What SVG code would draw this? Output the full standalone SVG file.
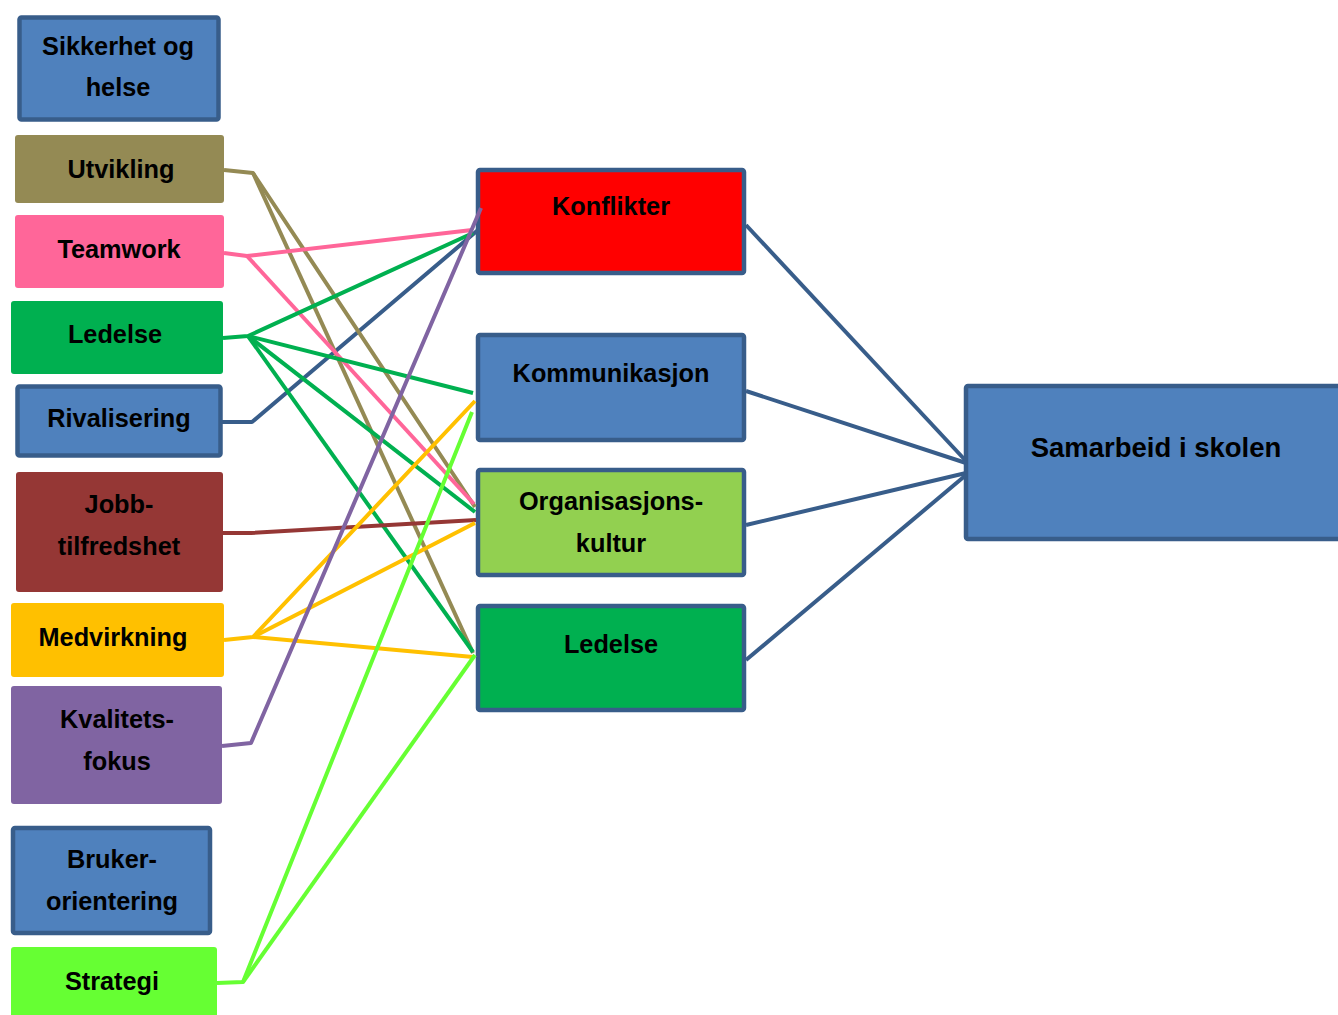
<svg xmlns="http://www.w3.org/2000/svg" width="1338" height="1015" viewBox="0 0 1338 1015">
<style>
text{font-family:"Liberation Sans",Arial,sans-serif;font-weight:bold;font-size:25.3px;fill:#000;text-anchor:middle}
.b{stroke:#385D8A;stroke-width:4.5}
.f{stroke:none}
.c{fill:none;stroke-width:4;stroke-linejoin:round}
</style>
<rect width="1338" height="1015" fill="#fff"/>
<g id="n-sikkerhet"><rect class="b" x="19.5" y="17.5" width="199" height="102" rx="2" fill="#4F81BD"/><text x="118" y="55">Sikkerhet og</text><text x="118" y="96">helse</text></g>
<g id="n-utvikling"><rect class="f" x="15" y="135" width="209" height="68" rx="3" fill="#948A54"/><text x="121" y="178">Utvikling</text></g>
<g id="n-teamwork"><rect class="f" x="15" y="215" width="209" height="73" rx="3" fill="#FF6699"/><text x="119" y="258">Teamwork</text></g>
<g id="n-ledelse-l"><rect class="f" x="11" y="301" width="212" height="73" rx="3" fill="#00B050"/><text x="115" y="343">Ledelse</text></g>
<g id="n-rivalisering"><rect class="b" x="17.5" y="386.5" width="203" height="69" rx="2" fill="#4F81BD"/><text x="119" y="427">Rivalisering</text></g>
<g id="n-jobb"><rect class="f" x="16" y="472" width="207" height="120" rx="3" fill="#953735"/><text x="119" y="513">Jobb-</text><text x="119" y="555">tilfredshet</text></g>
<g id="n-medvirkning"><rect class="f" x="11" y="603" width="213" height="74" rx="3" fill="#FFC000"/><text x="113" y="646">Medvirkning</text></g>
<g id="n-kvalitet"><rect class="f" x="11" y="686" width="211" height="118" rx="3" fill="#8064A2"/><text x="117" y="728">Kvalitets-</text><text x="117" y="770">fokus</text></g>
<g id="n-bruker"><rect class="b" x="13" y="828" width="197" height="105" rx="2" fill="#4F81BD"/><text x="112" y="868">Bruker-</text><text x="112" y="910">orientering</text></g>
<g id="n-strategi"><rect class="f" x="11" y="947" width="206" height="70" rx="3" fill="#66FF33"/><text x="112" y="990">Strategi</text></g>
<g id="n-konflikter"><rect class="b" x="478" y="170" width="266" height="103" rx="2" fill="#FF0000"/><text x="611" y="215">Konflikter</text></g>
<g id="n-kommunikasjon"><rect class="b" x="478" y="335" width="266" height="105" rx="2" fill="#4F81BD"/><text x="611" y="382">Kommunikasjon</text></g>
<g id="n-org"><rect class="b" x="478" y="470" width="266" height="105" rx="2" fill="#92D050"/><text x="611" y="510">Organisasjons-</text><text x="611" y="552">kultur</text></g>
<g id="n-ledelse-m"><rect class="b" x="478" y="606" width="266" height="104" rx="2" fill="#00B050"/><text x="611" y="653">Ledelse</text></g>
<g id="n-samarbeid"><rect class="b" x="966" y="386" width="380" height="153" rx="2" fill="#4F81BD"/><text x="1156" y="457" style="font-size:27.5px">Samarbeid i skolen</text></g>
<g id="connectors">
<g stroke="#385D8A" class="c">
<path d="M746 225L966 461"/><path d="M746 391L966 463"/><path d="M746 525L966 473"/><path d="M746 660L966 475"/>
<path d="M222 422L252 422L478 230"/>
</g>
<g stroke="#948A54" class="c"><path d="M224 170L253 173L475 507"/><path d="M253 173L473 653"/></g>
<g stroke="#FF6699" class="c"><path d="M224 253L247 256L472 230"/><path d="M247 256L474 504"/></g>
<g stroke="#00B050" class="c"><path d="M223 338L248 336L473 233"/><path d="M248 336L473 393"/><path d="M248 336L475 512"/><path d="M248 336L473 652"/></g>
<g stroke="#953735" class="c"><path d="M223 533L251 533L476 520"/></g>
<g stroke="#FFC000" class="c"><path d="M224 640L253 637L475 401"/><path d="M253 637L475 523"/><path d="M253 637L473 657"/></g>
<g stroke="#8064A2" class="c"><path d="M222 746L251 743L481 208"/></g>
<g stroke="#66FF33" class="c"><path d="M217 983L243 982L472 412"/><path d="M243 982L475 655"/></g>
</g>
</svg>
